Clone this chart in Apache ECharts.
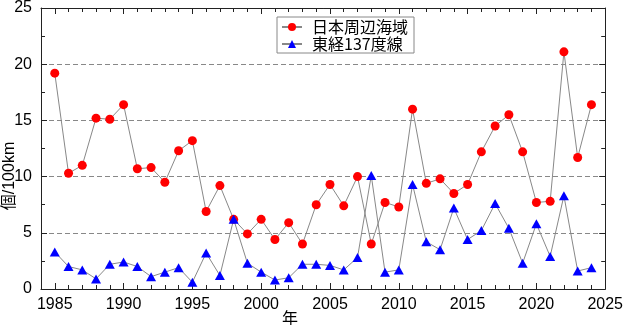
<!DOCTYPE html>
<html>
<head>
<meta charset="utf-8">
<script src="https://cdn.jsdelivr.net/npm/echarts@6/dist/echarts.min.js"></script>
<style>
html,body{margin:0;padding:0;background:#fff;}
#c{width:626px;height:325px;}
</style>
</head>
<body>
<div id="c"></div>
<script>
const years = [1985,1986,1987,1988,1989,1990,1991,1992,1993,1994,1995,1996,1997,1998,1999,2000,2001,2002,2003,2004,2005,2006,2007,2008,2009,2010,2011,2012,2013,2014,2015,2016,2017,2018,2019,2020,2021,2022,2023,2024];
const japanSeas = [19.2,10.3,11.0,15.2,15.1,16.4,10.7,10.8,9.5,12.3,13.2,6.9,9.2,6.2,4.9,6.2,4.4,5.9,4.0,7.5,9.3,7.4,10.0,4.0,7.7,7.3,16.0,9.4,9.8,8.5,9.3,12.2,14.5,15.5,12.2,7.7,7.8,21.1,11.7,16.4];
const e137 = [3.3,2.0,1.7,0.9,2.2,2.4,2.0,1.1,1.5,1.9,0.6,3.2,1.2,6.2,2.3,1.5,0.8,1.0,2.2,2.2,2.1,1.7,2.8,10.1,1.5,1.7,9.3,4.2,3.5,7.2,4.4,5.2,7.6,5.4,2.3,5.8,2.9,8.3,1.6,1.9];
const xTickLabels = [1985,1990,1995,2000,2005,2010,2015,2020,2025];
const seriesNames = ['日本周辺海域','東経137度線'];

const latin = "'Liberation Sans', Arial, 'Noto Sans CJK JP', sans-serif";
const chart = echarts.init(document.getElementById('c'), null, {renderer:'canvas'});
const axisLineStyle = {color:'#222', width:1};
const xBase = {type:'value', min:1984, max:2025, gridIndex:0};
chart.setOption({
  animation:false,
  backgroundColor:'#fff',
  grid:{left:41, right:18, top:5, bottom:36, containLabel:false},
  legend:{
    orient:'vertical', left:277, top:17,
    padding:[2,6,1,4], itemGap:1, itemWidth:20, itemHeight:10,
    borderColor:'#888', borderWidth:1, backgroundColor:'#fff',
    textStyle:{fontSize:16, color:'#000', fontFamily:"'Noto Sans CJK JP', 'Liberation Sans', sans-serif", padding:[0,0,0,5]},
    data:seriesNames
  },
  xAxis:[
    Object.assign({}, xBase, {position:'bottom',
      axisLine:{show:true, lineStyle:axisLineStyle},
      axisTick:{show:true, inside:true, length:6, customValues:xTickLabels, lineStyle:axisLineStyle},
      axisLabel:{show:true, customValues:xTickLabels, formatter:v=>String(v), fontSize:16, color:'#000', fontFamily:latin, margin:8},
      splitLine:{show:false}}),
    Object.assign({}, xBase, {position:'bottom', interval:1,
      axisLine:{show:false},
      axisTick:{show:true, inside:true, length:4, lineStyle:axisLineStyle},
      axisLabel:{show:false}, splitLine:{show:false}}),
    Object.assign({}, xBase, {position:'top',
      axisLine:{show:true, lineStyle:axisLineStyle},
      axisTick:{show:true, inside:true, length:6, customValues:xTickLabels, lineStyle:axisLineStyle},
      axisLabel:{show:false}, splitLine:{show:false}}),
    Object.assign({}, xBase, {position:'top', interval:1,
      axisLine:{show:false},
      axisTick:{show:true, inside:true, length:4, lineStyle:axisLineStyle},
      axisLabel:{show:false}, splitLine:{show:false}})
  ],
  yAxis:[
    {type:'value', min:0, max:25, interval:5, position:'left',
      axisLine:{show:true, lineStyle:axisLineStyle},
      axisTick:{show:true, inside:true, length:6, lineStyle:axisLineStyle},
      minorTick:{show:true, splitNumber:2, length:4, lineStyle:axisLineStyle},
      axisLabel:{fontSize:16, color:'#000', fontFamily:latin, margin:9},
      splitLine:{show:true, lineStyle:{color:'#888', type:[5,3], width:1}}},
    {type:'value', min:0, max:25, interval:5, position:'right',
      axisLine:{show:true, lineStyle:axisLineStyle},
      axisTick:{show:true, inside:true, length:6, lineStyle:axisLineStyle},
      minorTick:{show:true, splitNumber:2, length:4, lineStyle:axisLineStyle},
      axisLabel:{show:false}, splitLine:{show:false}}
  ],
  graphic:[
    {type:'text', x:290, y:318, style:{text:'年', font:"16px 'Noto Sans CJK JP'", fill:'#000', align:'center', verticalAlign:'middle'}},
    {type:'text', x:10, y:176, rotation:Math.PI/2, style:{text:'個/100km', font:"16px 'Liberation Sans', 'Noto Sans CJK JP'", fill:'#000', align:'center', verticalAlign:'middle'}}
  ],
  series:[
    {name:seriesNames[0], type:'line', xAxisIndex:0, yAxisIndex:0,
      data:years.map((y,i)=>[y, japanSeas[i]]),
      symbol:'circle', symbolSize:9,
      itemStyle:{color:'#ff0000', borderWidth:0},
      lineStyle:{color:'#888', width:1}},
    {name:seriesNames[1], type:'line', xAxisIndex:0, yAxisIndex:0,
      data:years.map((y,i)=>[y, e137[i]]),
      symbol:'triangle', symbolSize:[10,9],
      itemStyle:{color:'#0000ff', borderWidth:0},
      lineStyle:{color:'#888', width:1}}
  ]
});
</script>
</body>
</html>
